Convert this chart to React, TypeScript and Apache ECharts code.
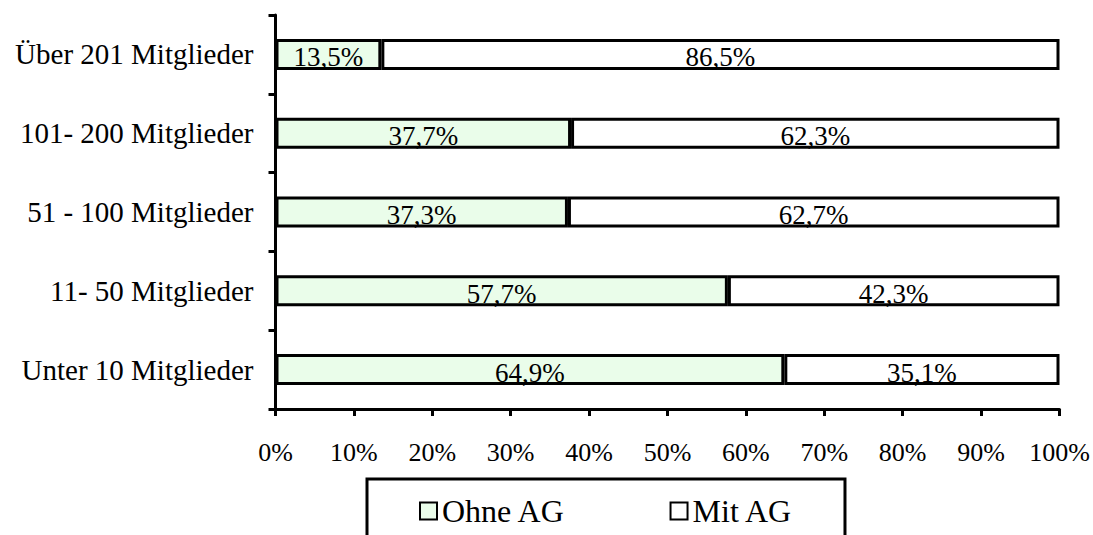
import React, { useEffect, useRef } from "react";
import * as echarts from "echarts";

const categories = [
  "Unter 10 Mitglieder",
  "11- 50 Mitglieder",
  "51 - 100 Mitglieder",
  "101- 200 Mitglieder",
  "Über 201 Mitglieder",
];
const ohneAG = [64.9, 57.7, 37.3, 37.7, 13.5];
const mitAG = [35.1, 42.3, 62.7, 62.3, 86.5];
const seriesNames = ["Ohne AG", "Mit AG"];

const FONT = '"Liberation Serif", "Times New Roman", serif';
const fmt = (v: number) => v.toFixed(1).replace(".", ",") + "%";

export default function App() {
  const ref = useRef<HTMLDivElement>(null);
  useEffect(() => {
    document.body.style.margin = "0";
    const chart = echarts.init(ref.current!, null, { renderer: "svg" });
    const labelCfg = {
      show: true,
      position: "inside",
      offset: [0, 3],
      color: "#000",
      fontFamily: FONT,
      fontSize: 27,
      formatter: (p: any) => fmt(p.value),
    };
    chart.setOption({
      animation: false,
      backgroundColor: "#fff",
      grid: { left: 275.5, right: 33.5, top: 15, bottom: 126 },
      xAxis: {
        type: "value",
        min: 0,
        max: 100,
        interval: 10,
        splitLine: { show: false },
        axisLine: { show: true, lineStyle: { color: "#000", width: 3 } },
        axisTick: { show: true, length: 7, inside: false, lineStyle: { color: "#000", width: 3 } },
        axisLabel: {
          formatter: "{value}%",
          color: "#000",
          fontFamily: FONT,
          fontSize: 26,
          margin: 30,
        },
      },
      yAxis: {
        type: "category",
        data: categories,
        axisLine: { show: true, lineStyle: { color: "#000", width: 3 } },
        axisTick: { show: true, length: 7, lineStyle: { color: "#000", width: 3 } },
        axisLabel: {
          color: "#000",
          fontFamily: FONT,
          fontSize: 29,
          margin: 22,
        },
      },
      legend: {
        left: 367,
        top: 479,
        orient: "horizontal",
        data: seriesNames,
        icon: "rect",
        itemWidth: 17,
        itemHeight: 17,
        itemGap: 104,
        padding: [16, 52, 60, 52],
        borderColor: "#000",
        borderWidth: 3,
        textStyle: { color: "#000", fontFamily: FONT, fontSize: 32 },
      },
      series: [
        {
          name: seriesNames[0],
          type: "bar",
          stack: "total",
          data: ohneAG,
          barWidth: 31,
          itemStyle: { color: "#EAFDEA", borderColor: "#000", borderWidth: 3 },
          label: labelCfg,
        },
        {
          name: seriesNames[1],
          type: "bar",
          stack: "total",
          data: mitAG,
          barWidth: 31,
          itemStyle: { color: "#FFFFFF", borderColor: "#000", borderWidth: 3 },
          label: labelCfg,
        },
      ],
    });
    return () => chart.dispose();
  }, []);
  return <div ref={ref} style={{ width: 1093, height: 535 }} />;
}
